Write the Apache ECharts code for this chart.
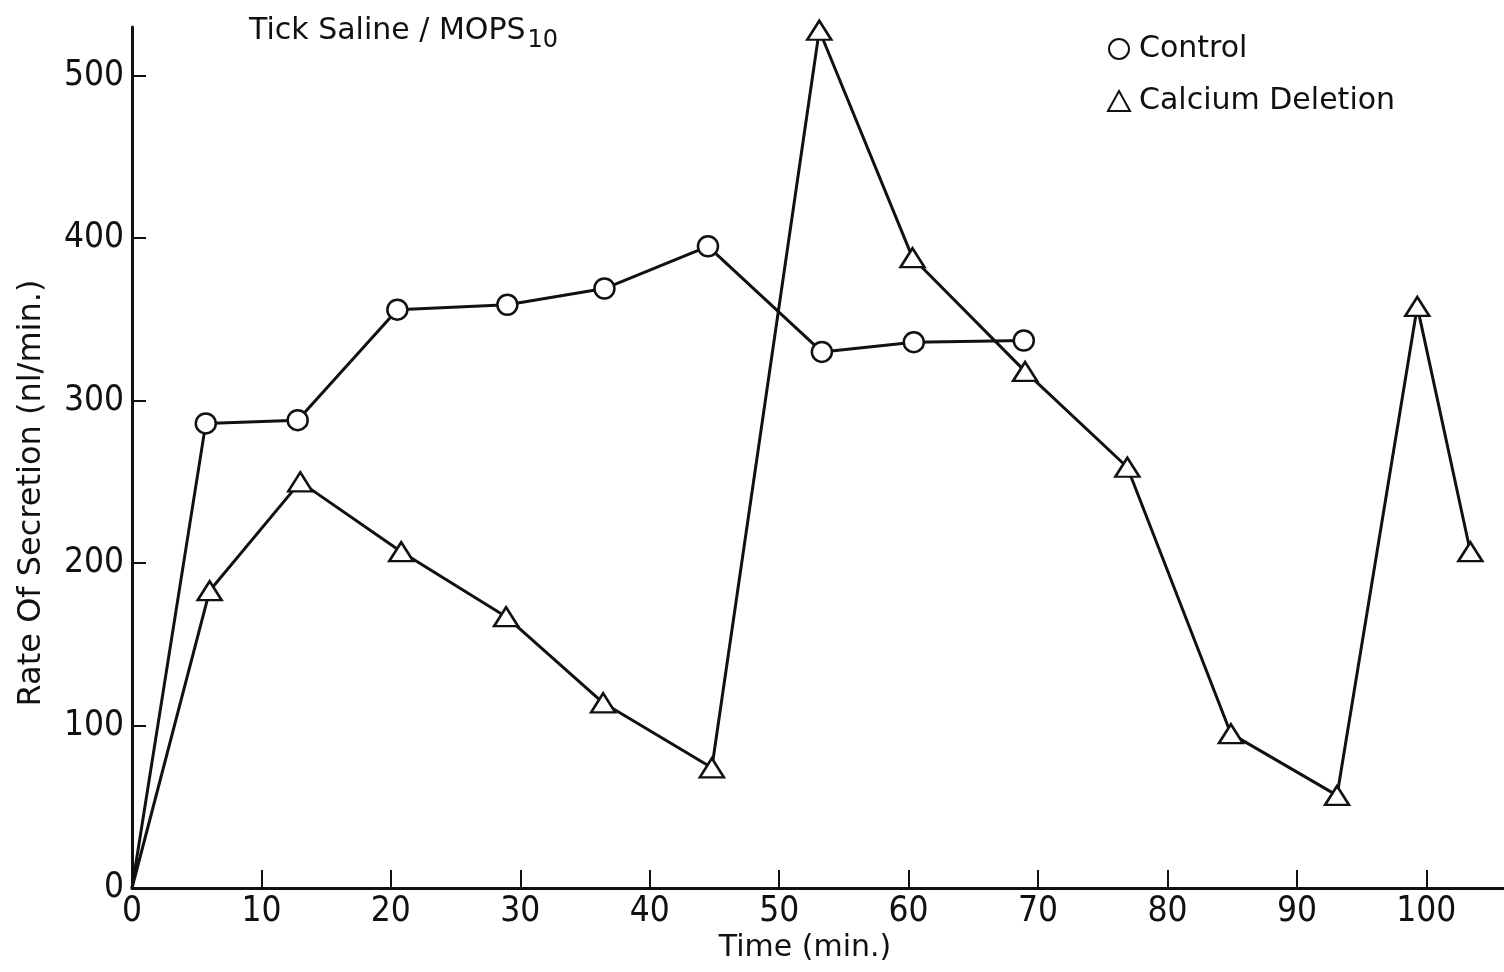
<!DOCTYPE html>
<html>
<head>
<meta charset="utf-8">
<script src="https://cdn.jsdelivr.net/npm/echarts@6/dist/echarts.min.js"></script>
<style>
html,body{margin:0;padding:0;background:#fff;}
#chart{width:1504px;height:972px;}
</style>
</head>
<body>
<div id="chart"></div>
<script>
// Data
const xTicks = [0, 10, 20, 30, 40, 50, 60, 70, 80, 90, 100];
const yTicks = [0, 100, 200, 300, 400, 500];
const controlTime = [0, 5.7, 12.8, 20.5, 29.0, 36.5, 44.5, 53.3, 60.4, 68.9];
const controlRate = [0, 286, 288, 356, 359, 369, 395, 330, 336, 337];
const calciumTime = [0, 6.0, 13.0, 20.8, 28.9, 36.4, 44.8, 53.1, 60.3, 69.0, 76.9, 84.9, 93.1, 99.3, 103.4];
const calciumRate = [0, 183, 250, 207, 167, 114, 74, 528, 388, 318, 259, 95, 57, 358, 207];
const seriesNames = ['Control', 'Calcium Deletion'];
const xName = 'Time (min.)';
const yName = 'Rate Of Secretion (nl/min.)';

const FONT = "'DejaVu Sans', sans-serif";
const NUMFONT = "'DejaVu Sans Condensed', 'Liberation Sans Narrow', sans-serif";

function pairs(xs, ys) {
  return xs.map((x, i) => ({
    value: [x, ys[i]],
    symbol: i === 0 ? 'none' : undefined
  }));
}

const chart = echarts.init(document.getElementById('chart'), null, {renderer: 'canvas'});
chart.setOption({
  animation: false,
  backgroundColor: '#fff',
  title: {
    text: '{a|Tick Saline / MOPS}{b|10}',
    left: 244,
    top: 4,
    textStyle: {
      rich: {
        a: {fontFamily: FONT, fontSize: 30, color: '#111', fontWeight: 'normal'},
        b: {fontFamily: FONT, fontSize: 24, color: '#111', fontWeight: 'normal', padding: [20, 0, 0, 2]}
      }
    }
  },
  legend: {
    orient: 'vertical',
    left: 1102,
    top: 29,
    itemGap: 22,
    itemWidth: 22,
    itemHeight: 20,
    textStyle: {fontFamily: FONT, fontSize: 30, color: '#111', padding: [0, 0, 0, 4]},
    data: [
      {name: seriesNames[0], icon: 'circle', itemStyle: {color: '#fff', borderColor: '#111', borderWidth: 2}},
      {name: seriesNames[1], icon: 'triangle', itemStyle: {color: '#fff', borderColor: '#111', borderWidth: 2}}
    ]
  },
  graphic: [
    {
      type: 'text',
      x: 32,
      y: 493,
      rotation: Math.PI / 2,
      style: {text: yName, font: "32px 'DejaVu Sans', sans-serif", fill: '#111', align: 'center', verticalAlign: 'middle'}
    },
    {
      type: 'text',
      x: 805,
      y: 948,
      style: {text: xName, font: "30px 'DejaVu Sans', sans-serif", fill: '#111', align: 'center', verticalAlign: 'middle'}
    }
  ],
  grid: {left: 132, right: 0, top: 27, bottom: 84, containLabel: false},
  xAxis: {
    type: 'value',
    min: 0,
    max: 106,
    axisLine: {show: true, onZero: false, lineStyle: {color: '#111', width: 3}},
    axisTick: {show: true, inside: true, length: 18, lineStyle: {color: '#111', width: 2}, customValues: xTicks},
    axisLabel: {fontFamily: NUMFONT, fontSize: 35, color: '#111', margin: 6, customValues: xTicks},
    splitLine: {show: false}
  },
  yAxis: {
    type: 'value',
    min: 0,
    max: 530,
    axisLine: {show: true, onZero: false, lineStyle: {color: '#111', width: 3}},
    axisTick: {show: true, inside: true, length: 14, lineStyle: {color: '#111', width: 2}, customValues: yTicks},
    axisLabel: {fontFamily: NUMFONT, fontSize: 35, color: '#111', margin: 8, customValues: yTicks},
    splitLine: {show: false}
  },
  series: [
    {
      name: seriesNames[0],
      type: 'line',
      data: pairs(controlTime, controlRate),
      symbol: 'circle',
      symbolSize: 20,
      showAllSymbol: true,
      lineStyle: {color: '#111', width: 3},
      itemStyle: {color: '#fff', borderColor: '#111', borderWidth: 2.5},
      z: 3
    },
    {
      name: seriesNames[1],
      type: 'line',
      data: pairs(calciumTime, calciumRate),
      symbol: 'triangle',
      symbolSize: [24, 19],
      showAllSymbol: true,
      lineStyle: {color: '#111', width: 3},
      itemStyle: {color: '#fff', borderColor: '#111', borderWidth: 2.5},
      z: 3
    }
  ]
});
</script>
</body>
</html>
